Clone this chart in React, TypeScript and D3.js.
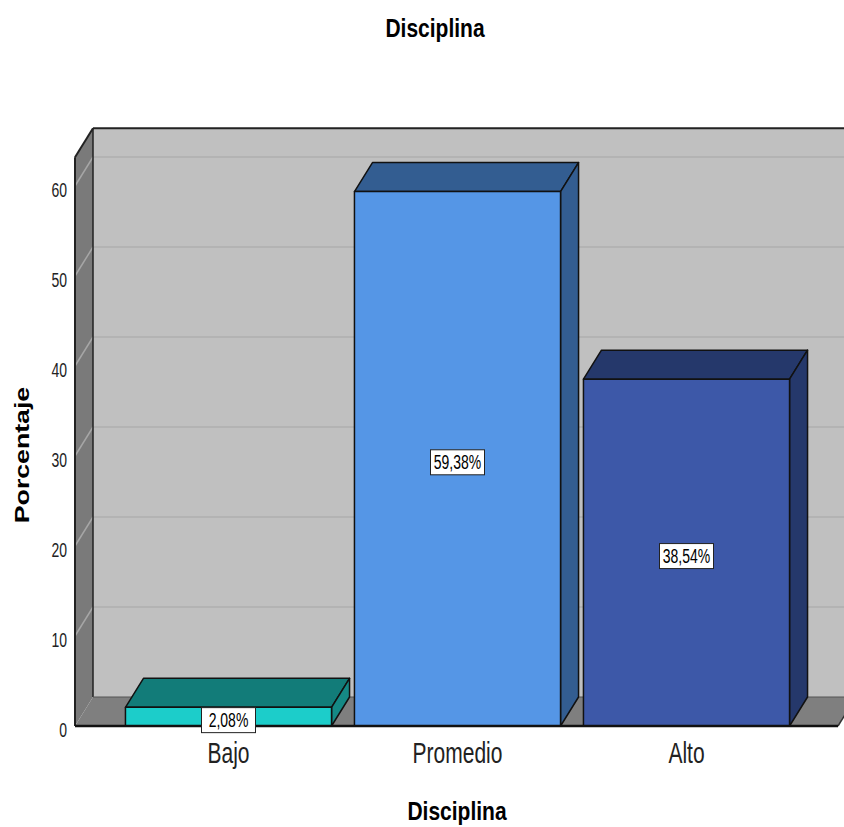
import React from "react";
import * as d3 from "d3";

const categories = ["Bajo", "Promedio", "Alto"];
const percentages = [2.08, 59.38, 38.54];
const valueLabels = ["2,08%", "59,38%", "38,54%"];
const yTicks = [0, 10, 20, 30, 40, 50, 60];
const frontColors = ["#1ccdca", "#5596e6", "#3d58a8"];
const topColors = ["#127c79", "#335d91", "#25386b"];
const sideColors = ["#158985", "#335d91", "#25386b"];

const W = 844;
const H = 827;
const DX = 18;
const DY = -29;
const WALL_MAX = 63.2;
const FONT = "'Liberation Sans', Arial, sans-serif";

function SText({
  x,
  y,
  k,
  rotate = 0,
  children,
  ...rest
}: {
  x: number;
  y: number;
  k: number;
  rotate?: number;
  children: React.ReactNode;
  [key: string]: any;
}) {
  return (
    <text transform={`translate(${x},${y}) scale(1,${k}) rotate(${rotate})`} {...rest}>
      {children}
    </text>
  );
}

export default function App() {
  const y = d3.scaleLinear().domain([0, 60]).range([726, 186]);
  const x = d3
    .scaleBand<string>()
    .domain(categories)
    .range([114, 801])
    .paddingInner(0.1)
    .paddingOuter(0.05);

  const xL = 75;
  const xR = 838;
  const y0 = y(0);
  const yTop = y(WALL_MAX);
  const pts = (a: [number, number][]) => a.map((p) => p.join(",")).join(" ");

  return (
    <svg
      width={W}
      height={H}
      style={{ position: "absolute", left: 0, top: 0, background: "#fff" }}
      fontFamily={FONT}
    >
      {/* back wall */}
      <rect x={xL + DX} y={yTop + DY} width={xR - xL + 10} height={y0 - yTop} fill="#c0c0c0" />
      {/* side wall */}
      <polygon
        points={pts([
          [xL, yTop],
          [xL + DX, yTop + DY],
          [xL + DX, y0 + DY],
          [xL, y0],
        ])}
        fill="#7a7a7a"
      />
      {/* floor */}
      <polygon
        points={pts([
          [xL, y0],
          [xL + DX, y0 + DY],
          [xR + DX, y0 + DY],
          [xR, y0],
        ])}
        fill="#7f7f7f"
      />
      {/* gridlines */}
      {yTicks
        .filter((t) => t > 0)
        .map((t) => (
          <g key={t}>
            <line x1={xL + DX} x2={W} y1={y(t) + DY} y2={y(t) + DY} stroke="#b3b3b3" strokeWidth={2} />
            <line x1={xL} x2={xL + DX} y1={y(t)} y2={y(t) + DY} stroke="#a6a6a6" strokeWidth={1.5} />
          </g>
        ))}
      {/* wall edges */}
      <line x1={xL + DX} x2={xL + DX} y1={yTop + DY} y2={y0 + DY} stroke="#222" strokeWidth={1.5} />
      <line x1={xL + DX} x2={W} y1={yTop + DY} y2={yTop + DY} stroke="#222" strokeWidth={2} />
      <line x1={xL} x2={xL + DX} y1={yTop} y2={yTop + DY} stroke="#222" strokeWidth={2} />
      <line x1={xL} x2={xL} y1={yTop} y2={y0} stroke="#222" strokeWidth={2} />
      <line x1={xL + DX} x2={xR + DX} y1={y0 + DY} y2={y0 + DY} stroke="#555" strokeWidth={1} />
      <line x1={xR} x2={xR + DX} y1={y0} y2={y0 + DY} stroke="#333" strokeWidth={1.5} />

      {/* bars */}
      {categories.map((c, i) => {
        const bx = x(c)!;
        const bw = x.bandwidth();
        const by = y(percentages[i]);
        return (
          <g key={c} stroke="#111" strokeWidth={1.5} strokeLinejoin="round">
            <polygon
              points={pts([
                [bx, by],
                [bx + DX, by + DY],
                [bx + bw + DX, by + DY],
                [bx + bw, by],
              ])}
              fill={topColors[i]}
            />
            <polygon
              points={pts([
                [bx + bw, by],
                [bx + bw + DX, by + DY],
                [bx + bw + DX, y0 + DY],
                [bx + bw, y0],
              ])}
              fill={sideColors[i]}
            />
            <rect x={bx} y={by} width={bw} height={y0 - by} fill={frontColors[i]} />
          </g>
        );
      })}

      {/* floor front line */}
      <line x1={xL} x2={xR} y1={y0} y2={y0} stroke="#111" strokeWidth={2.5} />

      {/* value labels */}
      {categories.map((c, i) => {
        const cx = x(c)! + x.bandwidth() / 2;
        const cy = (y(percentages[i]) + y0) / 2;
        return (
          <g key={c + "l"}>
            <rect x={cx - 27} y={cy - 9} width={54} height={25} fill="#fff" stroke="#222" strokeWidth={1} />
            <SText x={cx} y={cy + 10} k={1.5} textAnchor="middle" fontSize={14} fill="#000">
              {valueLabels[i]}
            </SText>
          </g>
        );
      })}

      {/* y tick labels */}
      {yTicks.map((t) => (
        <SText key={t} x={67} y={y(t) + 11} k={1.5} textAnchor="end" fontSize={14} fill="#222">
          {t}
        </SText>
      ))}

      {/* x category labels */}
      {categories.map((c) => (
        <SText
          key={c}
          x={x(c)! + x.bandwidth() / 2}
          y={763}
          k={1.37}
          textAnchor="middle"
          fontSize={21}
          fill="#222"
        >
          {c}
        </SText>
      ))}

      {/* titles */}
      <SText x={435} y={37} k={1.27} textAnchor="middle" fontSize={21} fontWeight="bold" fill="#000">
        Disciplina
      </SText>
      <SText x={457} y={820} k={1.27} textAnchor="middle" fontSize={21} fontWeight="bold" fill="#000">
        Disciplina
      </SText>
      <SText x={29} y={455} k={1.27} rotate={-90} textAnchor="middle" fontSize={21} fontWeight="bold" fill="#000">
        Porcentaje
      </SText>
    </svg>
  );
}
